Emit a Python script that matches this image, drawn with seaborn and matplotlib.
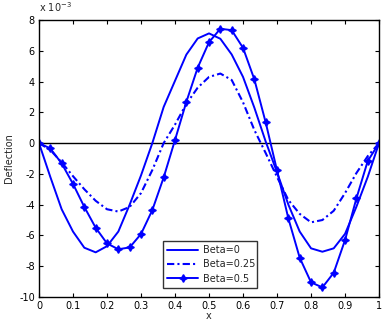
import numpy as np
import pandas as pd
import matplotlib
matplotlib.use("Agg")
import matplotlib.pyplot as plt
import seaborn as sns

x = [i / 30 for i in range(31)]
beta0 = [0, -2.2, -4.3, -5.75, -6.8, -7.1, -6.7, -5.75, -4.0, -2.1, 0.0,
         2.35, 4.05, 5.75, 6.8, 7.13, 6.78, 5.76, 4.3, 2.3, 0.1,
         -1.9, -4.0, -5.75, -6.84, -7.06, -6.84, -5.9, -4.14, -2.2, 0]
beta025 = [0, -0.45, -1.25, -2.15, -3.0, -3.75, -4.3, -4.45, -4.15, -3.25, -1.75,
           0.0, 1.2, 2.55, 3.6, 4.3, 4.52, 4.1, 2.65, 0.85, -0.65,
           -2.2, -3.7, -4.6, -5.15, -5.0, -4.4, -3.25, -1.95, -0.85, 0]
beta05 = [0, -0.35, -1.32, -2.65, -4.15, -5.5, -6.52, -6.9, -6.78, -5.91, -4.35,
          -2.23, 0.2, 2.68, 4.9, 6.56, 7.43, 7.34, 6.19, 4.14, 1.34,
          -1.78, -4.9, -7.45, -9.05, -9.38, -8.43, -6.3, -3.6, -1.17, 0]
labels = ["Beta=0", "Beta=0.25", "Beta=0.5"]
yticks = [-10, -8, -6, -4, -2, 0, 2, 4, 6, 8]
xticks = [0, 0.1, 0.2, 0.3, 0.4, 0.5, 0.6, 0.7, 0.8, 0.9, 1]

sns.set_style("white")
plt.rcParams['font.family'] = ['DejaVu Sans']

fig = plt.figure(figsize=(3.86, 3.2), dpi=100)
ax = fig.add_axes([0.101, 0.072, 0.881, 0.8655])

blue = (0, 0, 1)
ax.axhline(0, color='black', lw=1.0, zorder=1)
sns.lineplot(x=x, y=beta0, ax=ax, color=blue, lw=1.4, label=labels[0],
             linestyle='-')
sns.lineplot(x=x, y=beta025, ax=ax, color=blue, lw=1.5, label=labels[1],
             linestyle=(0, (3.5, 1.5, 1, 1.5)))
sns.lineplot(x=x, y=beta05, ax=ax, color=blue, lw=1.4, label=labels[2],
             linestyle='-', marker=(4, 1, 0), markersize=5.5,
             markeredgewidth=1.0, markeredgecolor=blue, markerfacecolor=blue)

ax.set_xlim(0, 1)
ax.set_ylim(-10, 8)
ax.set_xticks(xticks)
ax.set_xticklabels([("%g" % t) for t in xticks])
ax.set_yticks(yticks)
ax.set_yticklabels([str(t) for t in yticks])
ax.tick_params(direction='in', length=3, width=0.8, labelsize=7, colors='black',
               top=True, right=True, bottom=True, left=True, pad=3)
for s in ax.spines.values():
    s.set_visible(True)
    s.set_color('black')
    s.set_linewidth(1.0)
ax.set_xlabel("x", fontsize=7)
ax.xaxis.set_label_coords(0.5, -0.05)
ax.set_ylabel("Deflection", fontsize=7, labelpad=4)
ax.text(0.0, 1.02, "x 10$^{-3}$", transform=ax.transAxes, fontsize=7,
        ha='left', va='bottom')

leg = ax.legend(loc='lower left', bbox_to_anchor=(0.366, 0.034, 0.275, 0.174),
                mode='expand', fontsize=7, frameon=True, fancybox=False,
                edgecolor='black', borderpad=0.4, handlelength=3.2,
                labelspacing=0.45, handletextpad=0.5, borderaxespad=0)
leg.get_frame().set_linewidth(1.0)

fig.savefig("out.png", dpi=100)
